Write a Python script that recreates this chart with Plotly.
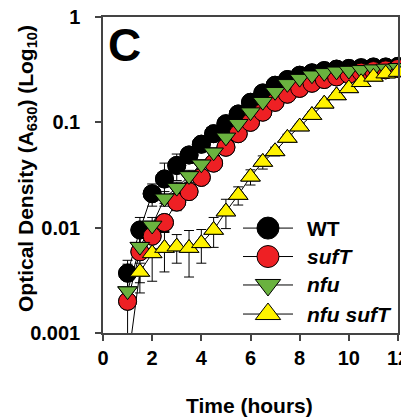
import plotly.graph_objects as go

# ---- data ----
time_h = [1.0, 1.5, 2.0, 2.5, 3.0, 3.5, 4.0, 4.5, 5.0, 5.5, 6.0, 6.5,
          7.0, 7.5, 8.0, 8.5, 9.0, 9.5, 10.0, 10.5, 11.0, 11.5, 12.0]

wt = [0.0037, 0.0095, 0.021, 0.029, 0.039, 0.049, 0.062, 0.078, 0.097, 0.12, 0.155, 0.19,
      0.225, 0.255, 0.28, 0.295, 0.31, 0.32, 0.325, 0.33, 0.335, 0.335, 0.34]
wt_err = [0.0012, 0.003, 0.005, 0.012, 0.011, 0.008, 0.008, 0.008, 0.01, 0.01, 0.01, 0.012,
          0.012, 0.012, 0.012, 0.012, 0.012, 0.01, 0.01, 0.01, 0.01, 0.01, 0.01]

suft = [0.0020, 0.0059, 0.0083, 0.0112, 0.0175, 0.022, 0.030, 0.041, 0.058, 0.078, 0.10, 0.125,
        0.155, 0.185, 0.21, 0.235, 0.255, 0.27, 0.285, 0.30, 0.31, 0.315, 0.325]
suft_err = [0.0025, 0.0035, 0.002, 0.002, 0.003, 0.003, 0.004, 0.005, 0.005, 0.006, 0.008, 0.008,
            0.01, 0.01, 0.01, 0.01, 0.01, 0.01, 0.01, 0.01, 0.01, 0.01, 0.01]

nfu = [0.0025, 0.0066, 0.0105, 0.019, 0.024, 0.031, 0.040, 0.052, 0.072, 0.097, 0.125, 0.157,
       0.195, 0.232, 0.26, 0.28, 0.295, 0.305, 0.31, 0.315, 0.32, 0.325, 0.33]
nfu_err = [0.0008, 0.0015, 0.002, 0.003, 0.003, 0.004, 0.004, 0.005, 0.006, 0.008, 0.008, 0.01,
           0.01, 0.01, 0.01, 0.01, 0.01, 0.01, 0.01, 0.01, 0.01, 0.01, 0.01]

nfu_suft = [0.0005, 0.0038, 0.0057, 0.0064, 0.0066, 0.0064, 0.0071, 0.0095, 0.0142, 0.0204, 0.0304, 0.042,
            0.053, 0.071, 0.091, 0.117, 0.15, 0.18, 0.21, 0.24, 0.27, 0.29, 0.30]
nfu_suft_err = [0.0, 0.0008, 0.0026, 0.0026, 0.002, 0.003, 0.0025, 0.003, 0.0044, 0.004, 0.005, 0.006,
                0.005, 0.006, 0.006, 0.008, 0.01, 0.01, 0.01, 0.01, 0.01, 0.01, 0.01]

x_ticks = [0, 2, 4, 6, 8, 10, 12]
y_ticks = [0.001, 0.01, 0.1, 1]
y_ticktext = ["0.001", "0.01", "0.1", "1"]

names = ["WT", "<i>sufT</i>", "<i>nfu</i>", "<i>nfu sufT</i>"]
values = [wt, suft, nfu, nfu_suft]
errors = [wt_err, suft_err, nfu_err, nfu_suft_err]
symbols = ["circle", "circle", "triangle-down", "triangle-up"]
colors = ["#000000", "#EE2024", "#6AB23F", "#FFF200"]
sizes = [18, 18, 17, 17]
legend_sizes = [22, 22, 22, 22]

FONT = "Liberation Sans, Arial, sans-serif"

fig = go.Figure()

# lines + error bars (clipped to plot area)
for nm, y, e, sym, col, sz in zip(names, values, errors, symbols, colors, sizes):
    fig.add_trace(go.Scatter(
        x=time_h, y=y, mode="lines+markers", name=nm,
        line=dict(color="black", width=1),
        marker=dict(symbol=sym, size=sz, color=col, line=dict(color="black", width=1)),
        error_y=dict(type="data", array=e, visible=True, color="black", thickness=1, width=5),
        showlegend=False, cliponaxis=True, hoverinfo="skip"))

# markers on top, not clipped at the frame
for nm, y, sym, col, sz in zip(names, values, symbols, colors, sizes):
    fig.add_trace(go.Scatter(
        x=time_h, y=y, mode="markers", name=nm,
        marker=dict(symbol=sym, size=sz, color=col, line=dict(color="black", width=1)),
        showlegend=False, cliponaxis=False))

# hand-made legend (larger symbols), on an overlay axis 0..1
leg_x = [0.4746, 0.5593, 0.6441]
leg_rows = [0.332, 0.242, 0.152, 0.060]
leg_text_x = 0.685
for nm, sym, col, lsz, ly in zip(names, symbols, colors, legend_sizes, leg_rows):
    fig.add_trace(go.Scatter(
        x=[leg_x[0], leg_x[2]], y=[ly, ly], mode="lines",
        line=dict(color="black", width=1), xaxis="x2", yaxis="y2",
        showlegend=False, hoverinfo="skip"))
    fig.add_trace(go.Scatter(
        x=[leg_x[1]], y=[ly], mode="markers",
        marker=dict(symbol=sym, size=lsz, color=col, line=dict(color="black", width=1)),
        xaxis="x2", yaxis="y2", showlegend=False, cliponaxis=False, hoverinfo="skip"))

annotations = []
for nm, ly in zip(names, leg_rows):
    annotations.append(dict(text=nm, x=leg_text_x, y=ly, xref="paper", yref="paper",
                            xanchor="left", yanchor="middle", showarrow=False,
                            font=dict(family=FONT, size=21, color="black", weight="bold")))
annotations.append(dict(text="C", x=0.0712, y=0.911, xref="paper", yref="paper",
                        xanchor="center", yanchor="middle", showarrow=False,
                        font=dict(family=FONT, size=46, color="black", weight="bold")))
annotations.append(dict(text="Optical Density (A<sub>630</sub>) (Log<sub>10</sub>)",
                        x=-0.2576, y=0.519, xref="paper", yref="paper", textangle=-90,
                        xanchor="center", yanchor="middle", showarrow=False,
                        font=dict(family=FONT, size=21, color="black", weight="bold")))
annotations.append(dict(text="Time (hours)", x=0.498, y=-0.228, xref="paper", yref="paper",
                        xanchor="center", yanchor="middle", showarrow=False,
                        font=dict(family=FONT, size=21, color="black", weight="bold")))

# the page body adds an 8px offset, so the figure is 8px smaller and shifted
fig.update_layout(
    template="none",
    width=401, height=411,
    margin=dict(l=95, r=11, t=9, b=86, autoexpand=False),
    plot_bgcolor="white", paper_bgcolor="white",
    showlegend=False,
    font=dict(family=FONT, size=20, color="black"),
    annotations=annotations,
    xaxis=dict(range=[0, 12], tickvals=x_ticks, ticks="outside", ticklen=6, tickwidth=1.5,
               tickcolor="#444", showline=True, linecolor="#444", linewidth=1.5, mirror=True,
               showgrid=False, zeroline=False, automargin=False, ticklabeloverflow="allow",
               tickfont=dict(family=FONT, size=20, color="black", weight="bold")),
    yaxis=dict(type="log", range=[-3, 0], tickvals=y_ticks, ticktext=y_ticktext,
               ticks="outside", ticklen=6, tickwidth=1.5, tickcolor="#444",
               showline=True, linecolor="#444", linewidth=1.5, mirror=True,
               showgrid=False, zeroline=False, ticklabelstandoff=11, automargin=False,
               ticklabeloverflow="allow",
               tickfont=dict(family=FONT, size=20, color="black", weight="bold")),
    xaxis2=dict(overlaying="x", anchor="y2", range=[0, 1], visible=False, fixedrange=True),
    yaxis2=dict(overlaying="y", anchor="x2", range=[0, 1], visible=False, fixedrange=True),
)

fig.write_html("out.html")
